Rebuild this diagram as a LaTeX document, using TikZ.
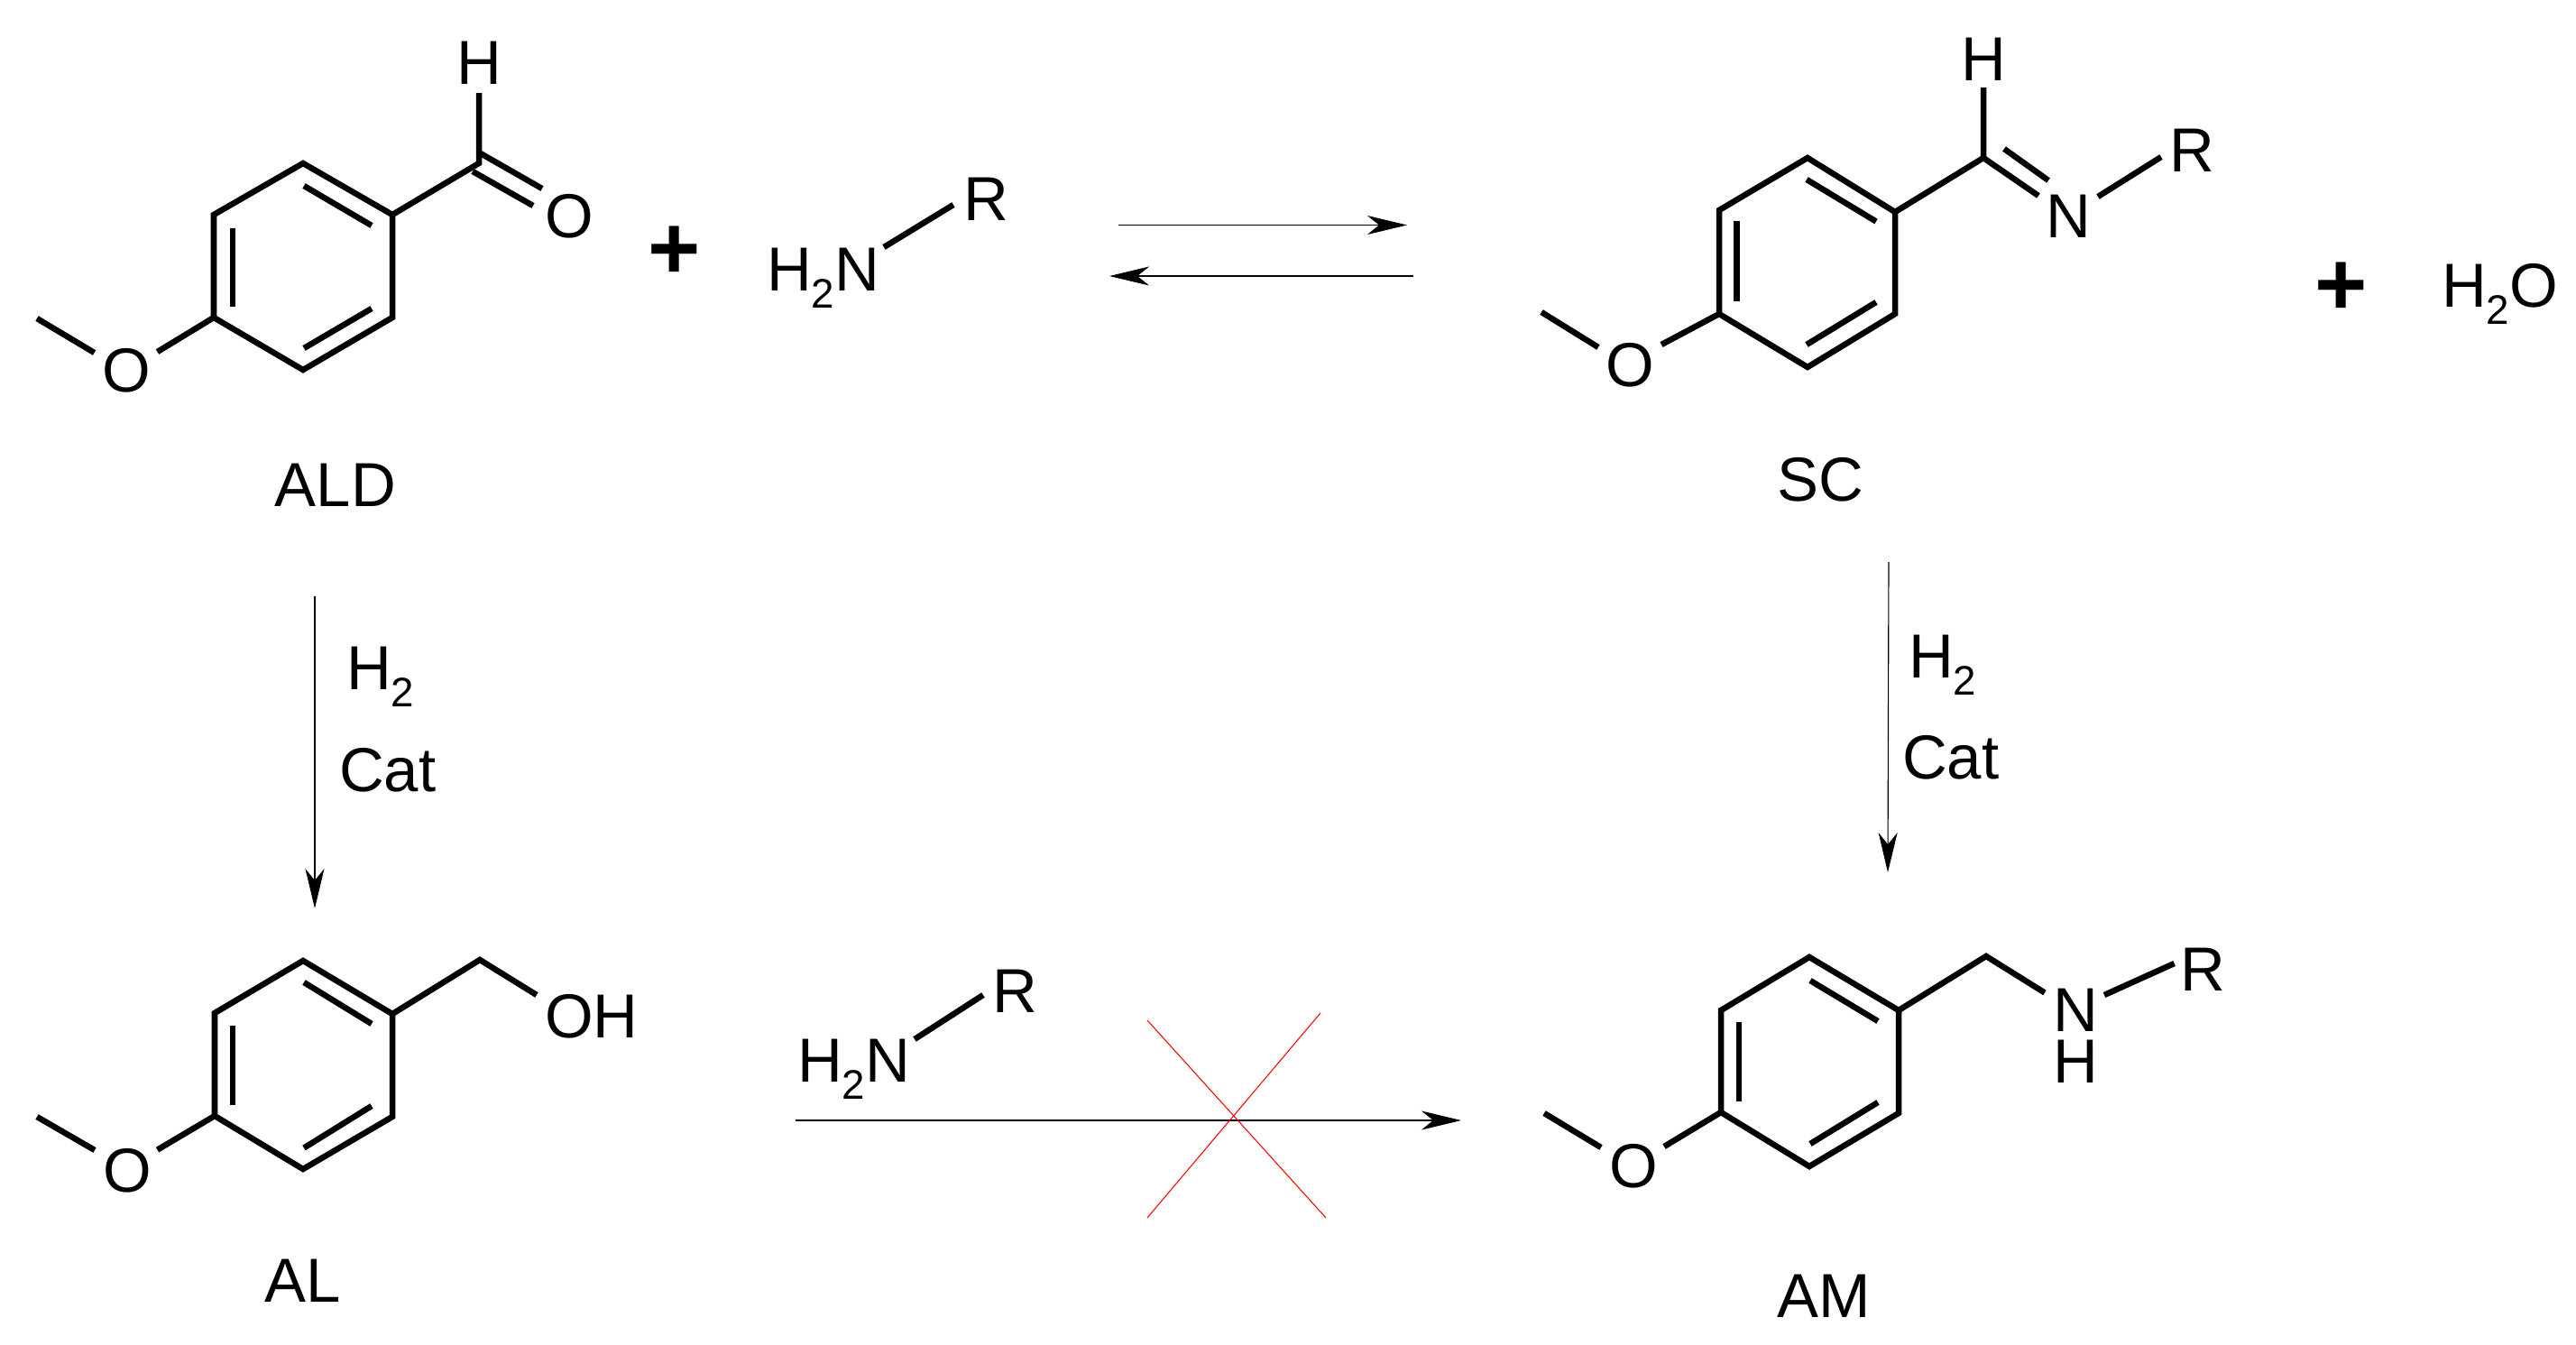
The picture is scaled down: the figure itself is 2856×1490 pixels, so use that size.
\documentclass[tikz,border=0pt]{standalone}
\usepackage{fontspec}
\usetikzlibrary{arrows.meta}
\setmainfont{Liberation Sans}
\newcommand{\subtwo}{\raisebox{-0.19cm}{\fontsize{13}{14}\selectfont 2}}
\tikzset{
  atom/.style={inner sep=0pt,outer sep=0pt,font=\fontsize{19.6}{22}\selectfont},
  atombase/.style={atom,anchor=base west},
  plussign/.style={inner sep=0pt,outer sep=0pt,font=\fontsize{28.4}{30}\selectfont\bfseries},
  bond/.style={draw=black,line width=0.065cm,line cap=butt,line join=miter},
  rxn/.style={draw=black,line width=0.32pt,-{Stealth[length=0.44cm,width=0.21cm,inset=0.13cm]}},
  cross/.style={draw=red,line width=0.3pt}
}
\begin{document}
\begin{tikzpicture}[x=0.01cm,y=-0.01cm]
\useasboundingbox[fill=white] (0,0) rectangle (2856,1490);

% ---------- ALD ----------
\coordinate (a1) at (336,181); \coordinate (a2) at (435,238); \coordinate (a3) at (435,352);
\coordinate (a4) at (336,410); \coordinate (a5) at (237,352); \coordinate (a6) at (237,238);
\coordinate (ai1) at (258,253); \coordinate (ai2) at (258,340);
\coordinate (ai3) at (337,206); \coordinate (ai4) at (412,250);
\coordinate (ai5) at (412,342); \coordinate (ai6) at (337,386);
\coordinate (ac) at (531,181); \coordinate (ah) at (531,103);
\coordinate (ad1) at (531,169); \coordinate (ad2) at (601,209);
\coordinate (ad3) at (524,190); \coordinate (ad4) at (591,228);
\coordinate (am1) at (174.5,390); \coordinate (am2) at (104.6,391); \coordinate (am3) at (41,353);
\draw[bond] (a1)--(a2)--(a3)--(a4)--(a5)--(a6)--cycle;
\draw[bond] (ai1)--(ai2); \draw[bond] (ai3)--(ai4); \draw[bond] (ai5)--(ai6);
\draw[bond] (a2)--(ac)--(ah);
\draw[bond] (ad1)--(ad2); \draw[bond] (ad3)--(ad4);
\draw[bond] (a5)--(am1); \draw[bond] (am2)--(am3);
\node[atom] (aldH) at (531,70) {H};
\node[atom] (aldO) at (631,240) {O};
\node[atom] (aldOm) at (140,411) {O};
\node[atom] (aldName) at (372,538) {ALD};
\node[plussign] (plusA) at (748,280) {+};

% ---------- amine, top ----------
\node[atombase] (amineA) at (850,322) {H\subtwo N};
\node[atom] (amineAR) at (1093,221) {R};
\coordinate (ab1) at (980,274); \coordinate (ab2) at (1057,227);
\draw[bond] (ab1)--(ab2);

% ---------- equilibrium arrows ----------
\coordinate (e1) at (1240,249.5); \coordinate (e2) at (1560,249.5);
\coordinate (e3) at (1567,306); \coordinate (e4) at (1230,306);
\draw[rxn] (e1)--(e2);
\draw[rxn] (e3)--(e4);

% ---------- SC ----------
\coordinate (s1) at (2004,175); \coordinate (s2) at (2101,235); \coordinate (s3) at (2101,348);
\coordinate (s4) at (2004,407); \coordinate (s5) at (1906,348); \coordinate (s6) at (1906,233);
\coordinate (si1) at (1925.5,245); \coordinate (si2) at (1925.5,334);
\coordinate (si3) at (2003,199); \coordinate (si4) at (2080,245.5);
\coordinate (si5) at (2080,335); \coordinate (si6) at (2003,382);
\coordinate (sc) at (2199,175); \coordinate (sh) at (2199,97);
\coordinate (sd1) at (2260,217); \coordinate (sd2) at (2222,165); \coordinate (sd3) at (2271,200);
\coordinate (sn1) at (2326,218); \coordinate (sn2) at (2396,174);
\coordinate (sm1) at (1842,382); \coordinate (sm2) at (1772,385); \coordinate (sm3) at (1709,346);
\draw[bond] (s1)--(s2)--(s3)--(s4)--(s5)--(s6)--cycle;
\draw[bond] (si1)--(si2); \draw[bond] (si3)--(si4); \draw[bond] (si5)--(si6);
\draw[bond] (s2)--(sc)--(sh);
\draw[bond] (sc)--(sd1); \draw[bond] (sd2)--(sd3);
\draw[bond] (sn1)--(sn2);
\draw[bond] (s5)--(sm1); \draw[bond] (sm2)--(sm3);
\node[atom] (scH) at (2199,66) {H};
\node[atom] (scN) at (2293,239.5) {N};
\node[atom] (scR) at (2430,167) {R};
\node[atom] (scOm) at (1807,405) {O};
\node[atom] (scName) at (2018,532) {SC};
\node[plussign] (plusB) at (2595.5,320) {+};
\node[atombase] (water) at (2707,340.5) {H\subtwo O};

% ---------- hydrogenation arrows ----------
\coordinate (h1) at (349,661); \coordinate (h2) at (349,1007);
\coordinate (h3) at (2094,623); \coordinate (h4) at (2093,967);
\draw[rxn] (h1)--(h2);
\draw[rxn] (h3)--(h4);
\node[atombase] (h2L) at (384,764) {H\subtwo};
\node[atombase] (catL) at (376,877) {Cat};
\node[atombase] (h2R) at (2116,751) {H\subtwo};
\node[atombase] (catR) at (2109,863) {Cat};

% ---------- AL ----------
\coordinate (l1) at (336,1065); \coordinate (l2) at (435,1124); \coordinate (l3) at (435,1238);
\coordinate (l4) at (336,1296); \coordinate (l5) at (238,1237); \coordinate (l6) at (238,1123);
\coordinate (li1) at (258,1137); \coordinate (li2) at (258,1225);
\coordinate (li3) at (337,1089); \coordinate (li4) at (412,1135);
\coordinate (li5) at (412,1226); \coordinate (li6) at (337,1272.5);
\coordinate (lc) at (532,1064); \coordinate (lo) at (595,1103);
\coordinate (lm1) at (174.5,1274.6); \coordinate (lm2) at (105,1275); \coordinate (lm3) at (41,1238);
\draw[bond] (l1)--(l2)--(l3)--(l4)--(l5)--(l6)--cycle;
\draw[bond] (li1)--(li2); \draw[bond] (li3)--(li4); \draw[bond] (li5)--(li6);
\draw[bond] (l2)--(lc)--(lo);
\draw[bond] (l5)--(lm1); \draw[bond] (lm2)--(lm3);
\node[atombase] (alOH) at (604,1150) {OH};
\node[atom] (alOm) at (141,1298) {O};
\node[atom] (alName) at (336,1420) {AL};

% ---------- amine, bottom, blocked arrow ----------
\node[atombase] (amineB) at (884,1199) {H\subtwo N};
\node[atom] (amineBR) at (1125.5,1099) {R};
\coordinate (bb1) at (1014,1152); \coordinate (bb2) at (1090,1103);
\draw[bond] (bb1)--(bb2);
\coordinate (r1) at (882,1242); \coordinate (r2) at (1620,1242);
\draw[rxn] (r1)--(r2);
\coordinate (x1) at (1272,1131); \coordinate (x2) at (1470,1350);
\coordinate (x3) at (1464,1123); \coordinate (x4) at (1272,1350);
\draw[cross] (x1)--(x2);
\draw[cross] (x3)--(x4);

% ---------- AM ----------
\coordinate (m1) at (2006,1061); \coordinate (m2) at (2105,1120); \coordinate (m3) at (2105,1234);
\coordinate (m4) at (2006,1293); \coordinate (m5) at (1908,1233); \coordinate (m6) at (1908,1120);
\coordinate (mi1) at (1928,1133); \coordinate (mi2) at (1928,1221);
\coordinate (mi3) at (2007,1087); \coordinate (mi4) at (2082,1132);
\coordinate (mi5) at (2082,1222); \coordinate (mi6) at (2007,1268);
\coordinate (mc) at (2202,1060); \coordinate (mn) at (2267,1100.5);
\coordinate (mn1) at (2333,1103); \coordinate (mn2) at (2410.6,1068);
\coordinate (mm1) at (1845,1271); \coordinate (mm2) at (1775,1272); \coordinate (mm3) at (1712,1234);
\draw[bond] (m1)--(m2)--(m3)--(m4)--(m5)--(m6)--cycle;
\draw[bond] (mi1)--(mi2); \draw[bond] (mi3)--(mi4); \draw[bond] (mi5)--(mi6);
\draw[bond] (m2)--(mc)--(mn);
\draw[bond] (mn1)--(mn2);
\draw[bond] (m5)--(mm1); \draw[bond] (mm2)--(mm3);
\node[inner sep=0pt,outer sep=0pt,align=center,font=\fontsize{19.6}{16.2}\selectfont] (amNH) at (2301,1148.5) {N\\H};
\node[atom] (amR) at (2442,1074.5) {R};
\node[atom] (amOm) at (1811,1293) {O};
\node[atom] (amName) at (2022,1437) {AM};
\end{tikzpicture}
\end{document}
